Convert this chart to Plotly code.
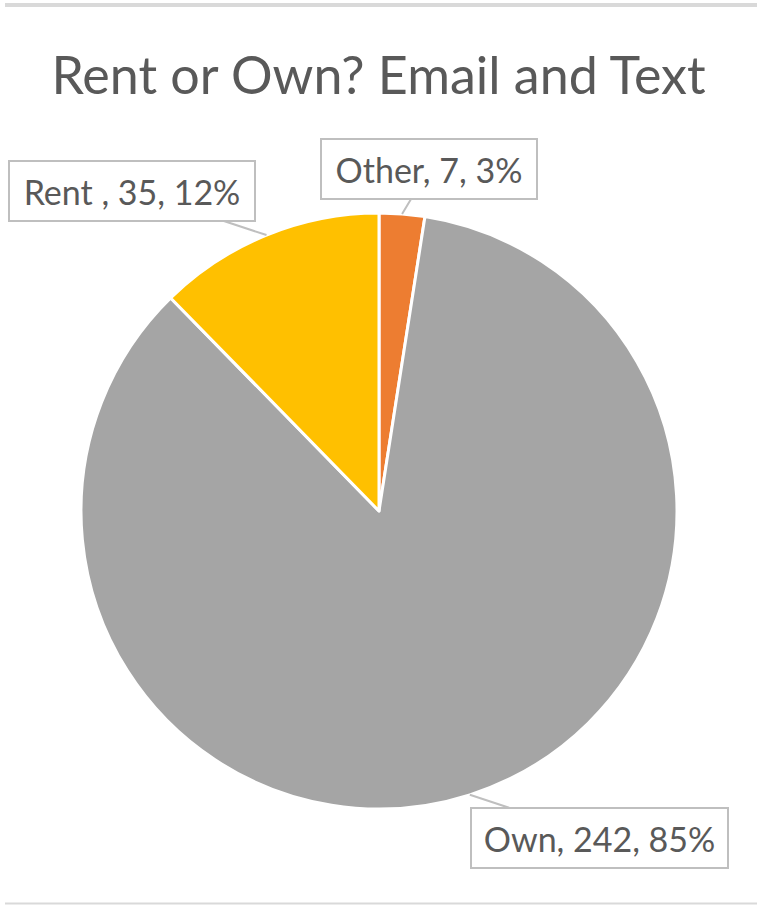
import math
import plotly.graph_objects as go

# ---- data ----
categories = ["Other", "Own", "Rent "]
counts = [7, 242, 35]
percent_labels = ["3%", "85%", "12%"]
colors = ["#ED7D31", "#A5A5A5", "#FFC000"]
title_text = "Rent or Own? Email and Text"

# ---- layout constants ----
W, H = 757, 905
CX, CY, R = 379, 511, 298
FONT = "Lato"
TXT = "#595959"

fig = go.Figure()
fig.add_trace(go.Pie(
    labels=categories,
    values=counts,
    sort=False,
    direction="clockwise",
    rotation=0,
    marker=dict(colors=colors, line=dict(color="white", width=3)),
    textinfo="none",
    hoverinfo="label+value+percent",
    showlegend=False,
    domain=dict(x=[(CX - R) / W, (CX + R) / W], y=[1 - (CY + R) / H, 1 - (CY - R) / H]),
))

# label offsets (pixels, from slice edge point to box centre) and box sizes
offsets = [(27, -45), (130, 43), (-134, -44)]
box_w = [210, 251, 240]

total = sum(counts)
cum = 0
annotations = []
for cat, v, pl, (ax, ay), bw in zip(categories, counts, percent_labels, offsets, box_w):
    mid = (cum + v / 2) / total * 2 * math.pi
    cum += v
    px = CX + R * math.sin(mid)
    py = CY - R * math.cos(mid)
    annotations.append(dict(
        x=px / W, y=1 - py / H, xref="paper", yref="paper",
        text=f"{cat}, {v}, {pl}",
        showarrow=True, arrowhead=0, arrowwidth=2, arrowcolor="#BFBFBF",
        ax=ax, ay=ay,
        bordercolor="#BFBFBF", borderwidth=2, borderpad=2,
        bgcolor="white", width=bw, height=54,
        font=dict(family=FONT, size=34, color=TXT),
    ))

fig.update_layout(
    width=W, height=H, autosize=False,
    margin=dict(l=0, r=0, t=0, b=0),
    paper_bgcolor="white", plot_bgcolor="white",
    title=dict(text=title_text, x=0.5, xanchor="center", y=1 - 76 / H, yanchor="middle",
               font=dict(family=FONT, size=52, color=TXT)),
    annotations=annotations,
    shapes=[
        dict(type="line", xref="paper", yref="paper", x0=5 / W, x1=1, y0=1 - 5 / H, y1=1 - 5 / H,
             line=dict(color="#D9D9D9", width=4)),
        dict(type="line", xref="paper", yref="paper", x0=5 / W, x1=1, y0=1 - 903.5 / H, y1=1 - 903.5 / H,
             line=dict(color="#D9D9D9", width=2)),
    ],
)

fig.write_html(
    "out.html",
    config={"displayModeBar": False},
    post_script="document.body.style.margin='0';document.body.style.padding='0';"
                "document.body.style.overflow='hidden';document.documentElement.style.overflow='hidden';",
)
